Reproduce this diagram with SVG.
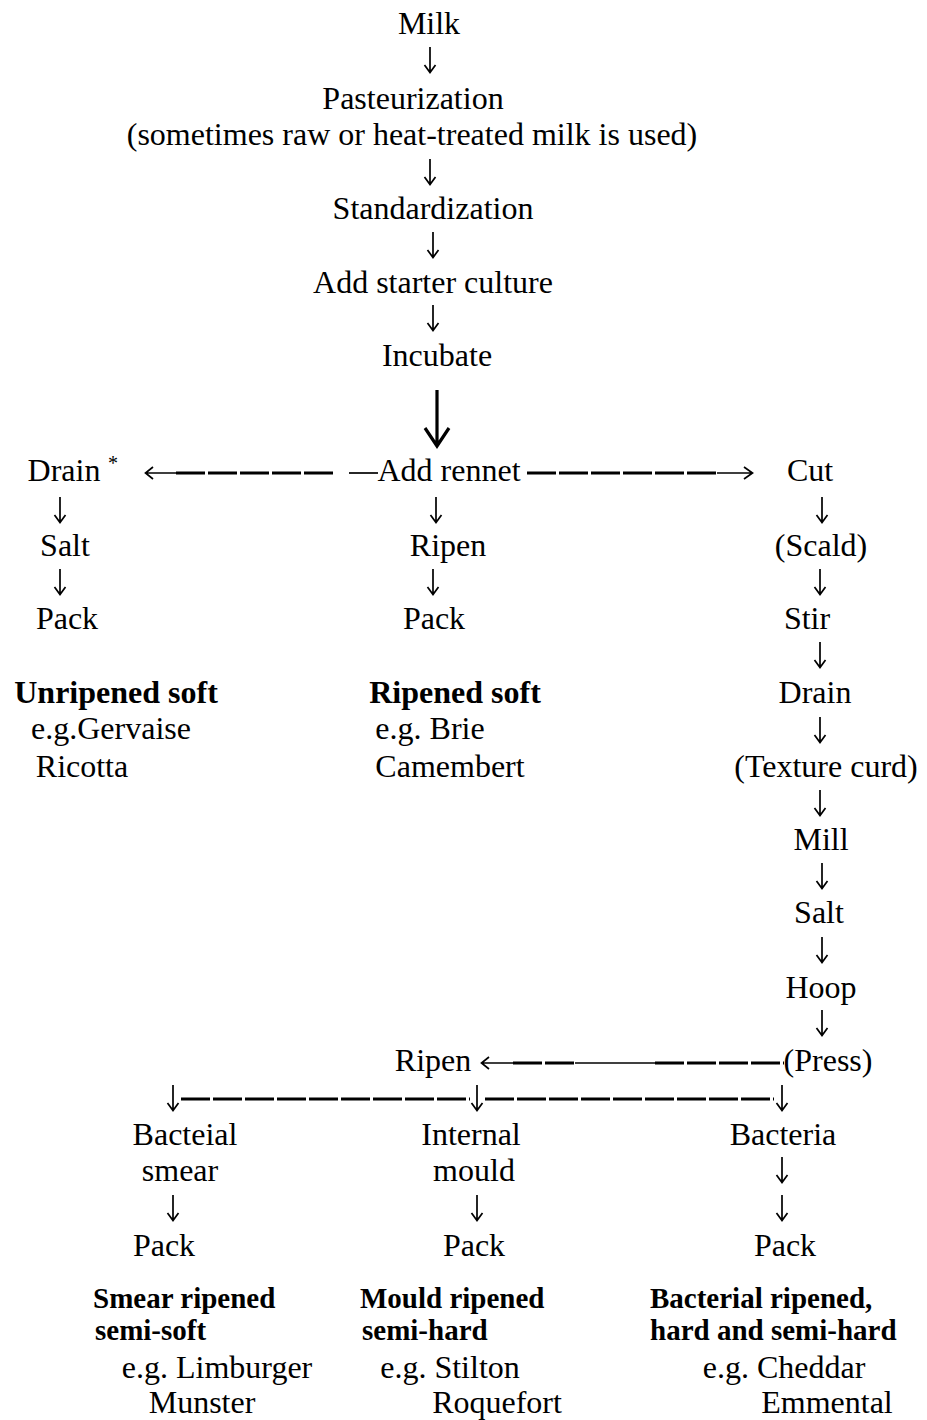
<svg xmlns="http://www.w3.org/2000/svg" width="927" height="1420" viewBox="0 0 927 1420">
<style>
text{font-family:"Liberation Serif","Times New Roman",serif;font-size:32px;fill:#000;text-anchor:middle}
.b{font-weight:bold}
.bs{font-weight:bold;font-size:29px;text-anchor:start}
.a{fill:none;stroke:#000;stroke-width:1.7}
.d{fill:none;stroke:#000;stroke-width:3}
.t{fill:none;stroke:#000;stroke-width:1.7}
</style>
<defs>
<path id="dn" d="M0,-13 V12 M-5.5,5 L0,12.5 L5.5,5" class="a"/>
</defs>
<rect width="927" height="1420" fill="#fff"/>
<g id="connectors">
<use href="#dn" x="430" y="60"/>
<use href="#dn" x="430" y="172"/>
<use href="#dn" x="433" y="245"/>
<use href="#dn" x="433" y="318"/>
<path d="M437,390 V444 M425,428 L437,446 L449,428" fill="none" stroke="#000" stroke-width="3.2"/>
<path d="M146,473 H176 M153,467 L145.5,473 L153,479" class="t"/>
<path d="M176,473 H333" class="d" stroke-dasharray="29 3"/>
<path d="M349,473 H378" class="t" stroke-width="2"/>
<path d="M527,473 H717" class="d" stroke-dasharray="29 3"/>
<path d="M717,473 H752 M744,467 L752.5,473 L744,479" class="t"/>
<use href="#dn" x="60" y="510"/>
<use href="#dn" x="436" y="510"/>
<use href="#dn" x="822" y="510"/>
<use href="#dn" x="60" y="582"/>
<use href="#dn" x="433" y="582"/>
<use href="#dn" x="820" y="582"/>
<use href="#dn" x="820" y="655"/>
<use href="#dn" x="820" y="730"/>
<use href="#dn" x="820" y="803"/>
<use href="#dn" x="822" y="876"/>
<use href="#dn" x="822" y="950"/>
<use href="#dn" x="822" y="1023"/>
<path d="M482,1063 H513 M489,1057 L481.5,1063 L489,1069" class="t"/>
<path d="M513,1063 H575" class="d" stroke-dasharray="29 3"/>
<path d="M575,1063 H655" class="t"/>
<path d="M655,1063 H784" class="d" stroke-dasharray="29 3"/>
<use href="#dn" x="173" y="1098"/>
<use href="#dn" x="477" y="1098"/>
<use href="#dn" x="782" y="1098"/>
<path d="M181,1099 H470" class="d" stroke-dasharray="29 3"/>
<path d="M485,1099 H774" class="d" stroke-dasharray="29 3"/>
<use href="#dn" x="782" y="1170"/>
<use href="#dn" x="173" y="1208"/>
<use href="#dn" x="477" y="1208"/>
<use href="#dn" x="782" y="1208"/>
</g>
<g id="milk"><text x="429" y="34">Milk</text></g>
<g id="pasteurization"><text x="413" y="109">Pasteurization</text><text x="412" y="145">(sometimes raw or heat-treated milk is used)</text></g>
<g id="standardization"><text x="433" y="219">Standardization</text></g>
<g id="starter"><text x="433" y="293">Add starter culture</text></g>
<g id="incubate"><text x="437" y="366">Incubate</text></g>
<g id="drain1"><text x="64" y="481">Drain</text><text x="113" y="470" style="font-size:20px">*</text></g>
<g id="rennet"><text x="449" y="481">Add rennet</text></g>
<g id="cut"><text x="810" y="481">Cut</text></g>
<g id="salt1"><text x="65" y="556">Salt</text></g>
<g id="ripen1"><text x="448" y="556">Ripen</text></g>
<g id="scald"><text x="821" y="556">(Scald)</text></g>
<g id="pack1"><text x="67" y="629">Pack</text></g>
<g id="pack2"><text x="434" y="629">Pack</text></g>
<g id="stir"><text x="807" y="629">Stir</text></g>
<g id="unripened"><text class="b" x="116" y="703">Unripened soft</text><text x="111" y="739">e.g.Gervaise</text><text x="82" y="777">Ricotta</text></g>
<g id="ripenedsoft"><text class="b" x="455" y="703">Ripened soft</text><text x="430" y="739">e.g. Brie</text><text x="450" y="777">Camembert</text></g>
<g id="drain2"><text x="815" y="703">Drain</text></g>
<g id="texture"><text x="826" y="777">(Texture curd)</text></g>
<g id="mill"><text x="821" y="850">Mill</text></g>
<g id="salt2"><text x="819" y="923">Salt</text></g>
<g id="hoop"><text x="821" y="998">Hoop</text></g>
<g id="ripen2"><text x="433" y="1071">Ripen</text></g>
<g id="press"><text x="828" y="1071">(Press)</text></g>
<g id="bsmear"><text x="185" y="1145">Bacteial</text><text x="180" y="1181">smear</text></g>
<g id="imould"><text x="471" y="1145">Internal</text><text x="474" y="1181">mould</text></g>
<g id="bacteria"><text x="783" y="1145">Bacteria</text></g>
<g id="pack3"><text x="164" y="1256">Pack</text></g>
<g id="pack4"><text x="474" y="1256">Pack</text></g>
<g id="pack5"><text x="785" y="1256">Pack</text></g>
<g id="smear"><text class="bs" x="93" y="1308">Smear ripened</text><text class="bs" x="95" y="1340">semi-soft</text><text x="217" y="1378">e.g. Limburger</text><text x="202" y="1413">Munster</text></g>
<g id="mould"><text class="bs" x="360" y="1308">Mould ripened</text><text class="bs" x="362" y="1340">semi-hard</text><text x="450" y="1378">e.g. Stilton</text><text x="497" y="1413">Roquefort</text></g>
<g id="bacterial"><text class="bs" x="650" y="1308">Bacterial ripened,</text><text class="bs" x="650" y="1340">hard and semi-hard</text><text x="784" y="1378">e.g. Cheddar</text><text x="827" y="1413">Emmental</text></g>
</svg>
